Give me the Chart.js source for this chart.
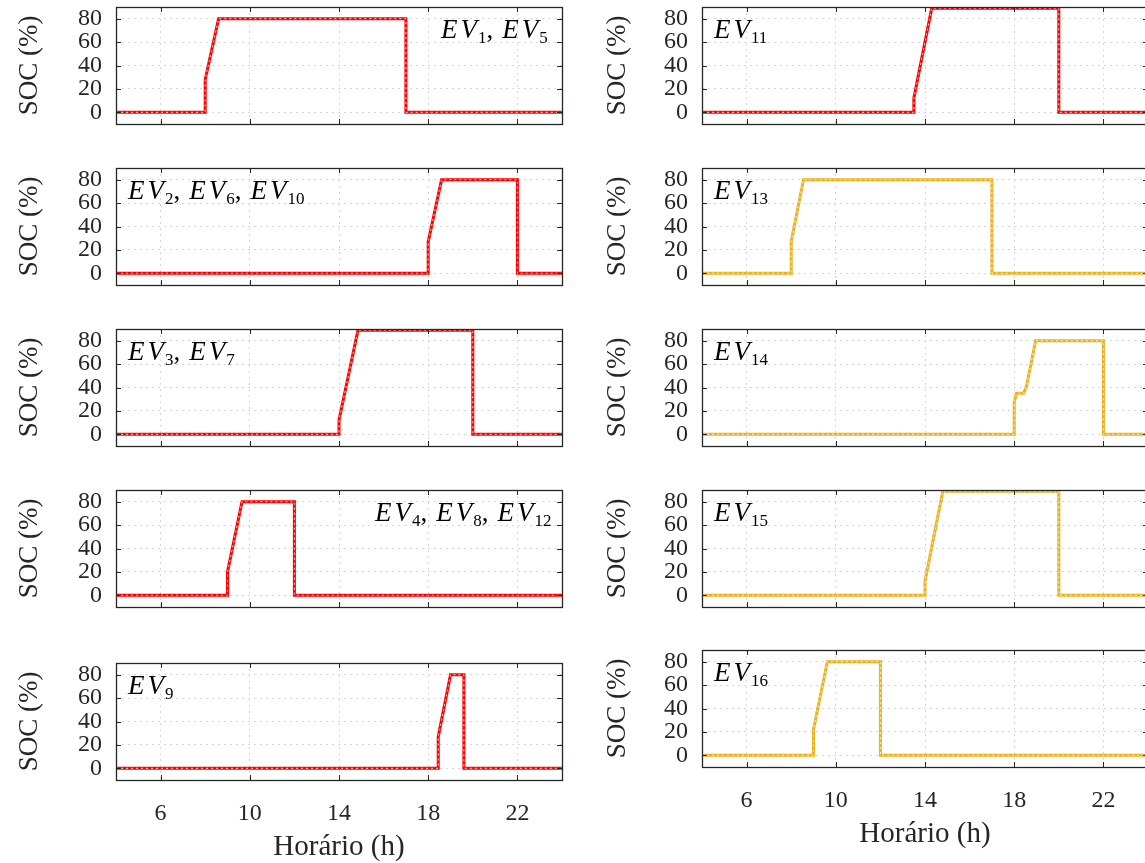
<!DOCTYPE html>
<html lang="pt-BR">
<head>
<meta charset="utf-8">
<title>SOC dos veículos elétricos</title>
<script src="https://cdn.jsdelivr.net/npm/chart.js@4.4.1/dist/chart.umd.min.js"></script>
<style>
  html, body { margin: 0; padding: 0; background: #fff; }
  body { width: 1145px; height: 863px; overflow: hidden; position: relative; }
  canvas { position: absolute; }
</style>
</head>
<body>
<script>
// Horário (h) e SOC (%) de cada grupo de veículos
const horas_ev1 = [4, 8, 8, 8.6, 17, 17, 24];
const soc_ev1 = [0, 0, 28, 80, 80, 0, 0];

const horas_ev2 = [4, 18, 18, 18.6, 22, 22, 24];
const soc_ev2 = [0, 0, 27, 80, 80, 0, 0];

const horas_ev3 = [4, 14, 14, 14.85, 20, 20, 24];
const soc_ev3 = [0, 0, 12, 89, 89, 0, 0];

const horas_ev4 = [4, 9, 9, 9.65, 12, 12, 24];
const soc_ev4 = [0, 0, 20, 80, 80, 0, 0];

const horas_ev9 = [4, 18.45, 18.45, 19.0, 19.6, 19.6, 24];
const soc_ev9 = [0, 0, 27, 80, 80, 0, 0];

const horas_ev11 = [4, 13.5, 13.5, 14.3, 20, 20, 24];
const soc_ev11 = [0, 0, 12, 89, 89, 0, 0];

const horas_ev13 = [4, 8, 8, 8.55, 17, 17, 24];
const soc_ev13 = [0, 0, 27, 80, 80, 0, 0];

const horas_ev14 = [4, 18, 18, 18.1, 18.42, 18.55, 18.96, 22, 22, 24];
const soc_ev14 = [0, 0, 27, 35, 35, 41, 80, 80, 0, 0];

const horas_ev15 = [4, 14, 14, 14.8, 20, 20, 24];
const soc_ev15 = [0, 0, 12, 89, 89, 0, 0];

const horas_ev16 = [4, 9, 9, 9.62, 12, 12, 24];
const soc_ev16 = [0, 0, 22, 80, 80, 0, 0];

// Marcas dos eixos
const horaTicks = [6, 10, 14, 18, 22];
const socTicks = [0, 20, 40, 60, 80];

const vermelho = '#ff0000';
const amarelo = '#edb120';
const cinza = '#262626';
const fonte = '"Liberation Serif", "Times New Roman", serif';

// col 0 = esquerda, col 1 = direita; topo = borda superior da área do gráfico
// dx = posição do rótulo a partir da borda esquerda do gráfico
const paineis = [
  {col: 0, topo: 7,   horas: horas_ev1,  soc: soc_ev1,  cor: vermelho, rotulo: ['1', '5'], dx: 325},
  {col: 0, topo: 168, horas: horas_ev2,  soc: soc_ev2,  cor: vermelho, rotulo: ['2', '6', '10'], dx: 12},
  {col: 0, topo: 329, horas: horas_ev3,  soc: soc_ev3,  cor: vermelho, rotulo: ['3', '7'], dx: 12},
  {col: 0, topo: 490, horas: horas_ev4,  soc: soc_ev4,  cor: vermelho, rotulo: ['4', '8', '12'], dx: 259},
  {col: 0, topo: 663, horas: horas_ev9,  soc: soc_ev9,  cor: vermelho, rotulo: ['9'], dx: 12, ultimo: true},
  {col: 1, topo: 7,   horas: horas_ev11, soc: soc_ev11, cor: vermelho, rotulo: ['11'], dx: 12},
  {col: 1, topo: 168, horas: horas_ev13, soc: soc_ev13, cor: amarelo,  rotulo: ['13'], dx: 12},
  {col: 1, topo: 329, horas: horas_ev14, soc: soc_ev14, cor: amarelo,  rotulo: ['14'], dx: 12},
  {col: 1, topo: 490, horas: horas_ev15, soc: soc_ev15, cor: amarelo,  rotulo: ['15'], dx: 12},
  {col: 1, topo: 650, horas: horas_ev16, soc: soc_ev16, cor: amarelo,  rotulo: ['16'], dx: 12, ultimo: true}
];

const colunas = [
  {esq: 0,   larg: 580, eixoY: 116, dir: 18},
  {esq: 588, larg: 572, eixoY: 114, dir: 12}
];
const altura = 117;
const fimCanvas = 875;

// Caixa com marcas para dentro (estilo MATLAB)
const caixaPlugin = {
  id: 'caixa',
  afterDraw: function (chart) {
    var ctx = chart.ctx;
    var a = chart.chartArea;
    var x = chart.scales.x;
    var y = chart.scales.y;
    ctx.save();
    ctx.strokeStyle = cinza;
    ctx.lineWidth = 1;
    ctx.beginPath();
    x.ticks.forEach(function (t) {
      var px = Math.round(x.getPixelForValue(t.value)) + 0.5;
      ctx.moveTo(px, a.bottom); ctx.lineTo(px, a.bottom - 5);
      ctx.moveTo(px, a.top); ctx.lineTo(px, a.top + 5);
    });
    y.ticks.forEach(function (t) {
      var py = Math.round(y.getPixelForValue(t.value)) + 0.5;
      ctx.moveTo(a.left, py); ctx.lineTo(a.left + 5, py);
      ctx.moveTo(a.right, py); ctx.lineTo(a.right - 5, py);
    });
    ctx.stroke();
    ctx.lineWidth = 1.3;
    ctx.strokeRect(Math.round(a.left) + 0.5, Math.round(a.top) + 0.5, Math.round(a.width), Math.round(a.height));
    ctx.restore();
  }
};

// Desenha "EV_n, EV_m" com índices
function desenhaRotulo(ctx, partes, x0, y0) {
  var x = x0;
  partes.forEach(function (p, i) {
    if (i > 0) {
      ctx.font = '27px ' + fonte;
      ctx.fillText(',', x, y0);
      x += ctx.measureText(',').width + 9;
    }
    ctx.font = 'italic 27px ' + fonte;
    ctx.fillText('E', x, y0);
    x += ctx.measureText('E').width + 3;
    ctx.fillText('V', x, y0);
    x += ctx.measureText('V').width + 1;
    ctx.font = '17px ' + fonte;
    ctx.fillText(p, x, y0 + 5);
    x += ctx.measureText(p).width;
  });
}

const rotuloPlugin = {
  id: 'rotulo',
  afterDraw: function (chart, args, opts) {
    var ctx = chart.ctx;
    var a = chart.chartArea;
    ctx.save();
    ctx.fillStyle = '#000';
    ctx.textBaseline = 'alphabetic';
    ctx.textAlign = 'left';
    desenhaRotulo(ctx, opts.partes, a.left + opts.dx, a.top + 31);
    ctx.restore();
  }
};

paineis.forEach(function (p) {
  var c = colunas[p.col];
  var topoCanvas = p.topo - 8;
  var altCanvas = p.ultimo ? fimCanvas - topoCanvas : altura + 16;
  var altEixoX = altCanvas - 8 - altura;

  var canvas = document.createElement('canvas');
  canvas.width = c.larg;
  canvas.height = altCanvas;
  canvas.style.left = c.esq + 'px';
  canvas.style.top = topoCanvas + 'px';
  canvas.style.width = c.larg + 'px';
  canvas.style.height = altCanvas + 'px';
  document.body.appendChild(canvas);

  var pontos = p.horas.map(function (h, i) {
    return {x: h, y: p.soc[i]};
  });

  // título do eixo x só na última linha
  var padTituloX = p.col === 0 ? 10 : 23;

  new Chart(canvas, {
    type: 'line',
    data: {
      datasets: [
        {
          data: pontos,
          borderColor: 'rgba(255, 255, 255, 0.8)',
          borderWidth: 1,
          borderDash: [2, 3],
          pointRadius: 0,
          tension: 0
        },
        {
          data: pontos,
          borderColor: p.cor,
          borderWidth: 3,
          pointRadius: 0,
          tension: 0
        }
      ]
    },
    options: {
      responsive: false,
      animation: false,
      devicePixelRatio: 1,
      layout: { padding: { top: 8, right: c.dir, left: 0, bottom: 0 } },
      plugins: {
        legend: { display: false },
        tooltip: { enabled: false },
        rotulo: { partes: p.rotulo, dx: p.dx }
      },
      scales: {
        x: {
          type: 'linear',
          min: 4,
          max: 24,
          afterBuildTicks: function (s) {
            s.ticks = horaTicks.map(function (v) { return {value: v}; });
          },
          afterFit: function (s) {
            s.height = altEixoX;
            s.paddingLeft = 0;
            s.paddingRight = 0;
          },
          grid: { color: 'rgba(0, 0, 0, 0.16)', lineWidth: 1, drawTicks: false },
          border: { display: false, dash: [2, 4] },
          ticks: {
            display: !!p.ultimo,
            autoSkip: false,
            maxRotation: 0,
            padding: 19,
            color: cinza,
            font: { family: fonte, size: 24 }
          },
          title: {
            display: !!p.ultimo,
            text: 'Horário (h)',
            color: cinza,
            font: { family: fonte, size: 29 },
            padding: { top: 0, bottom: padTituloX }
          }
        },
        y: {
          min: -10,
          max: 90,
          afterBuildTicks: function (s) {
            s.ticks = socTicks.map(function (v) { return {value: v}; });
          },
          afterFit: function (s) {
            s.width = c.eixoY;
            s.paddingTop = 0;
            s.paddingBottom = 0;
          },
          grid: { color: 'rgba(0, 0, 0, 0.16)', lineWidth: 1, drawTicks: false },
          border: { display: false, dash: [2, 4] },
          ticks: {
            autoSkip: false,
            padding: 14,
            color: cinza,
            font: { family: fonte, size: 24 }
          },
          title: {
            display: true,
            text: 'SOC (%)',
            color: cinza,
            font: { family: fonte, size: 27 },
            padding: { top: 14, bottom: 0 }
          }
        }
      }
    },
    plugins: [caixaPlugin, rotuloPlugin]
  });
});
</script>
</body>
</html>
